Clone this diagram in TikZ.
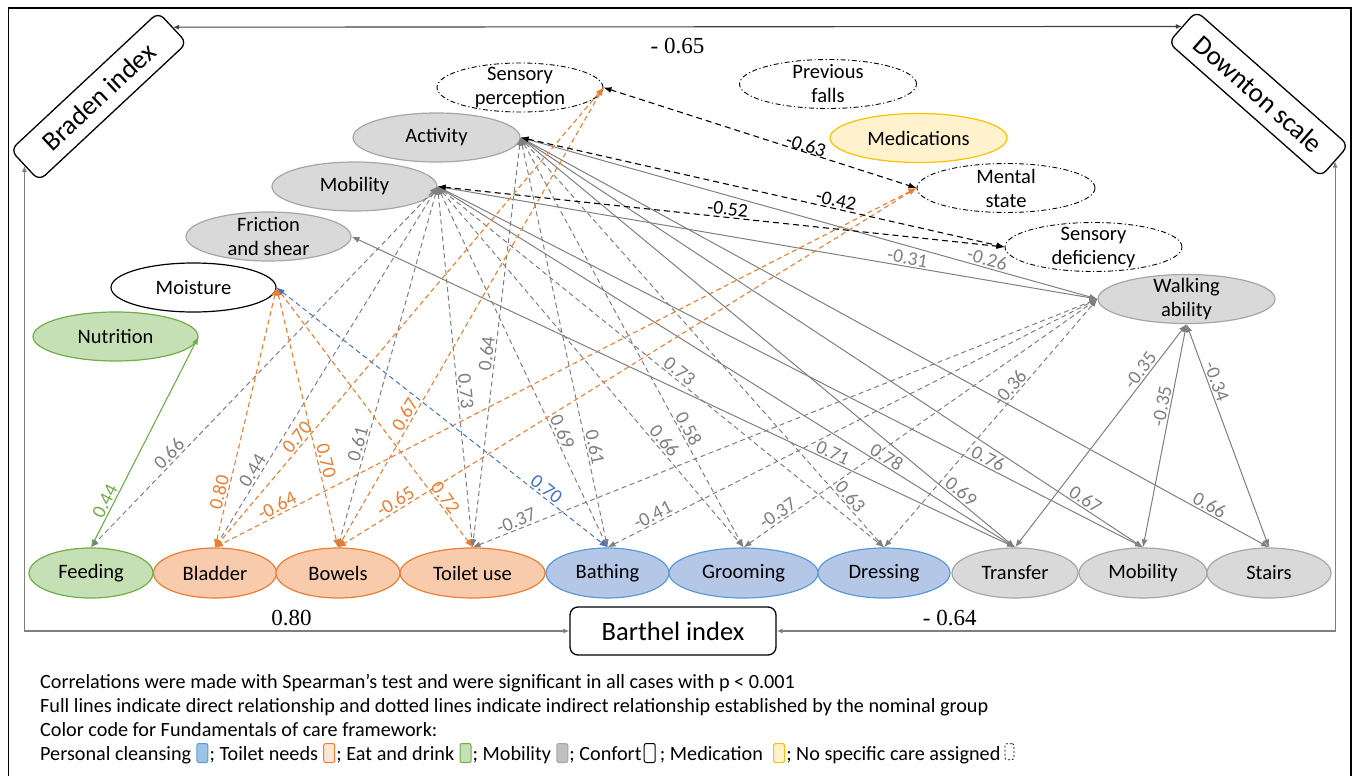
\documentclass[tikz,border=0pt]{standalone}
\usepackage{fontspec}
\setmainfont{Carlito}
\newfontfamily\timesf{Liberation Serif}
\usetikzlibrary{shapes.geometric,arrows.meta,calc}
\definecolor{gfill}{HTML}{D9D9D9}
\definecolor{gline}{HTML}{A6A6A6}
\definecolor{grn}{HTML}{70AD47}
\definecolor{grnf}{HTML}{C5E0B4}
\definecolor{org}{HTML}{ED7D31}
\definecolor{orgf}{HTML}{F8CBAD}
\definecolor{orgl}{HTML}{FBE5D6}
\definecolor{blu}{HTML}{5B9BD5}
\definecolor{bluf}{HTML}{B4C7E7}
\definecolor{blul}{HTML}{9DC3E6}
\definecolor{ylw}{HTML}{FFC000}
\definecolor{ylwf}{HTML}{FFF2CC}
\definecolor{cg}{HTML}{7F7F7F}
\definecolor{cblue}{HTML}{4472C4}
\definecolor{gmid}{HTML}{BFBFBF}
\begin{document}
\begin{tikzpicture}[x=1pt,y=-1pt,
  font=\fontsize{20.5}{24}\selectfont,
  ell/.style={ellipse, minimum width=#1, minimum height=49pt, inner sep=0pt, line width=1.2pt, align=center},
  gnode/.style={ell=#1, fill=gfill, draw=gline},
  gnnode/.style={ell=#1, fill=grnf, draw=grn},
  onode/.style={ell=#1, fill=orgf, draw=org},
  bnode/.style={ell=#1, fill=bluf, draw=blu},
  ynode/.style={ell=#1, fill=ylwf, draw=ylw},
  wnode/.style={ell=#1, fill=white, draw=black},
  ddnode/.style={ell=#1, draw=black, line width=0.9pt, dash pattern=on 5pt off 2.5pt on 1.2pt off 2.5pt},
  bnd/.style={minimum height=50pt},
  tips/.style={{Latex[length=8pt,width=6pt]}-{Latex[length=8pt,width=6pt]}},
  gdash/.style={tips, draw=cg, line width=1pt, dash pattern=on 5pt off 3.5pt},
  gsol/.style={tips, draw=cg, line width=1pt},
  odash/.style={tips, draw=org, line width=1.1pt, dash pattern=on 5pt off 3.5pt},
  bdash/.style={tips, draw=cblue, line width=1pt, dash pattern=on 5pt off 3.5pt},
  kdash/.style={tips, draw=black, line width=1.1pt, dash pattern=on 6pt off 4pt},
  grsol/.style={tips, draw=grn, line width=1.1pt},
  lbl/.style={sloped, above, inner sep=1.5pt, text=cg, font=\fontsize{19.5}{19.5}\selectfont},
  frm/.style={{Latex[length=6pt,width=5pt]}-{Latex[length=6pt,width=5pt]}, draw=cg, line width=1.1pt},
  tlab/.style={font=\timesf\fontsize{23}{23}\selectfont},
  scalebox/.style={draw, rounded corners=8pt, minimum width=#1, minimum height=42pt, line width=1.3pt, font=\fontsize{27}{27}\selectfont},
  leg/.style={anchor=base west, inner sep=0pt, font=\fontsize{20.2}{22}\selectfont},
  legbox/.style={rounded corners=2pt, minimum width=11pt, minimum height=19pt, inner sep=0pt, anchor=south west, line width=1pt}
]
\useasboundingbox (0,0) rectangle (1354,776);
\draw[line width=1.6pt] (8.5,8) rectangle (1351,790);

% scale boxes
\node[scalebox=202pt, rotate=43] (braden) at (98.75,96.5) {Braden index};
\node[scalebox=203pt, rotate=-41.4] (downton) at (1258.5,94) {Downton scale};
\node[draw, rounded corners=8pt, minimum width=206pt, minimum height=48pt, line width=1.3pt, font=\fontsize{26.5}{26.5}\selectfont] (barthel) at (673,631) {Barthel index};

% Braden items
\node[ddnode=166pt, label={[align=center]center:Sensory\\perception}] (sp) at (520,87.5) {};
\node[gnode=167pt] (act) at (436.5,137.5) {Activity};
\node[gnode=165pt] (mobB) at (354.5,186.5) {Mobility};
\node[gnode=165pt, label={[align=center]center:Friction\\and shear}] (fric) at (268.5,236.5) {};
\node[wnode=165pt] (moist) at (193.5,287.5) {Moisture};
\node[gnnode=165pt] (nutr) at (115.5,336.5) {Nutrition};

% Downton items
\node[ddnode=177pt, label={[align=center]center:Previous\\falls}] (pf) at (828,84) {};
\node[ynode=177pt] (med) at (918.5,138) {Medications};
\node[ddnode=178pt, label={[align=center]center:Mental\\state}] (ms) at (1006,188) {};
\node[ddnode=177pt, label={[align=center]center:Sensory\\deficiency}] (sd) at (1093.5,247) {};
\node[gnode=177pt, label={[align=center]center:Walking\\ability}] (wa) at (1186.5,299) {};

% Barthel items
\node[gnnode=124pt, bnd] (feed) at (91,573) {Feeding};
\node[onode=123pt, bnd] (blad) at (215,573) {Bladder};
\node[onode=124pt, bnd] (bowe) at (338,573) {Bowels};
\node[onode=145pt, bnd] (toil) at (472.5,573) {Toilet use};
\node[bnode=123pt, bnd] (bath) at (607.5,573) {Bathing};
\node[bnode=149pt, bnd] (groo) at (743.5,573) {Grooming};
\node[bnode=132pt, bnd] (dres) at (884,573) {Dressing};
\node[gnode=126pt, bnd] (tran) at (1015,573) {Transfer};
\node[gnode=128pt, bnd] (mobl) at (1143,573) {Mobility};
\node[gnode=124pt, bnd] (stai) at (1269,573) {Stairs};

% frame connectors
\draw[frm, draw=black!75] (braden.east) -- node[tlab, pos=0.5, below=8pt]{- 0.65} (downton.west);
\draw[frm] (braden.west) |- node[tlab, pos=0.745, above=1pt]{0.80} (barthel.west);
\draw[frm] (downton.east) |- node[tlab, pos=0.845, above=1pt]{- 0.64} (barthel.east);

% green
\draw[grsol] (nutr.east) -- node[lbl, text=grn, pos=0.8]{0.44} (feed.north);

% gray dashed from Mobility (Braden)
\draw[gdash] (mobB.east) -- node[lbl,pos=0.757]{0.66} (feed.north);
\draw[gdash] (mobB.east) -- node[lbl,pos=0.80]{0.44} (blad.north);
\draw[gdash] (mobB.east) -- node[lbl,pos=0.72]{0.61} (bowe.north);
\draw[gdash] (mobB.east) -- node[lbl,pos=0.57]{0.73} (toil.north);
\draw[gdash] (mobB.east) -- node[lbl,pos=0.69]{0.69} (bath.north);
\draw[gdash] (mobB.east) -- node[lbl,pos=0.72]{0.66} (groo.north);
\draw[gdash] (mobB.east) -- node[lbl,pos=0.53]{0.73} (dres.north);
% gray dashed from Activity
\draw[gdash] (act.east) -- node[lbl,pos=0.53]{0.64} (toil.north);
\draw[gdash] (act.east) -- node[lbl,pos=0.76]{0.61} (bath.north);
\draw[gdash] (act.east) -- node[lbl,pos=0.72]{0.58} (groo.north);
\draw[gdash] (act.east) -- node[lbl,pos=0.89]{0.63} (dres.north);
% gray solid
\draw[gsol] (fric.east) -- node[lbl,pos=0.72]{0.71} (tran.north);
\draw[gsol] (mobB.east) -- node[lbl,pos=0.77]{0.78} (tran.north);
\draw[gsol] (act.east) -- node[lbl,pos=0.88]{0.69} (tran.north);
\draw[gsol] (mobB.east) -- node[lbl,pos=0.775]{0.76} (mobl.north);
\draw[gsol] (act.east) -- node[lbl,pos=0.9]{0.67} (mobl.north);
\draw[gsol] (act.east) -- node[lbl,pos=0.915]{0.66} (stai.north);
\draw[gsol] (mobB.east) -- node[lbl,pos=0.71]{-0.31} (wa.west);
\draw[gsol] (act.east) -- node[lbl,pos=0.805]{-0.26} (wa.west);
\draw[gsol] (wa.south) -- node[lbl,pos=0.23]{-0.35} (tran.north);
\draw[gsol] (wa.south) -- node[lbl,pos=0.375]{-0.35} (mobl.north);
\draw[gsol] (wa.south) -- node[lbl,pos=0.27]{-0.34} (stai.north);
% gray dashed to Walking ability
\draw[gdash] (toil.north) -- node[lbl,pos=0.075]{-0.37} (wa.west);
\draw[gdash] (bath.north) -- node[lbl,pos=0.10]{-0.41} (wa.west);
\draw[gdash] (groo.north) -- node[lbl,pos=0.11]{-0.37} (wa.west);
\draw[gdash] (dres.north) -- node[lbl,pos=0.62]{-0.36} (wa.west);
% orange
\draw[odash] (moist.east) -- node[lbl,text=org,pos=0.796]{0.80} (blad.north);
\draw[odash] (moist.east) -- node[lbl,text=org,pos=0.673]{0.70} (bowe.north);
\draw[odash] (moist.east) -- node[lbl,text=org,pos=0.827]{0.72} (toil.north);
\draw[odash] (sp.east) -- node[lbl,text=org,pos=0.772]{0.70} (blad.north);
\draw[odash] (sp.east) -- node[lbl,text=org,pos=0.72]{0.67} (bowe.north);
\draw[odash] (ms.west) -- node[lbl,text=org,pos=0.906]{-0.64} (blad.north);
\draw[odash] (ms.west) -- node[lbl,text=org,pos=0.893]{-0.65} (bowe.north);
% blue
\draw[bdash] (moist.east) -- node[lbl,text=cblue,pos=0.8]{0.70} (bath.north);
% black dashed
\draw[kdash] (sp.east) -- node[lbl,text=black,pos=0.64,above=-2pt]{-0.63} (ms.west);
\draw[kdash] (act.east) -- node[lbl,text=black,pos=0.648]{-0.42} (sd.west);
\draw[kdash] (mobB.east) -- node[lbl,text=black,pos=0.51]{-0.52} (sd.west);

% legend
\node[leg] (l1) at (40,688) {Correlations were made with Spearman’s test and were significant in all cases with p < 0.001};
\node[leg] (l2) at (40,712) {Full lines indicate direct relationship and dotted lines indicate indirect relationship established by the nominal group};
\node[leg] (l3) at (40,736) {Color code for Fundamentals of care framework:};
\node[leg] (c1) at (40,760) {Personal cleansing};
\node[legbox, fill=blul, draw=blu] (s1) at ($(c1.base east)+(5,3)$) {};
\node[leg] (c2) at ($(s1.south east)+(1,-3)$) {; Toilet needs};
\node[legbox, fill=orgl, draw=org] (s2) at ($(c2.base east)+(5,3)$) {};
\node[leg] (c3) at ($(s2.south east)+(1,-3)$) {; Eat and drink};
\node[legbox, fill=grnf, draw=grn] (s3) at ($(c3.base east)+(5,3)$) {};
\node[leg] (c4) at ($(s3.south east)+(1,-3)$) {; Mobility};
\node[legbox, fill=gmid, draw=gline] (s4) at ($(c4.base east)+(5,3)$) {};
\node[leg] (c5) at ($(s4.south east)+(1,-3)$) {; Confort};
\node[legbox, fill=white, draw=black] (s5) at ($(c5.base east)+(2,3)$) {};
\node[leg] (c6) at ($(s5.south east)+(4,-3)$) {; Medication};
\node[legbox, fill=ylwf, draw=ylw] (s6) at ($(c6.base east)+(10,3)$) {};
\node[leg] (c7) at ($(s6.south east)+(1,-3)$) {; No specific care assigned};
\node[legbox, draw=black, line width=0.7pt, dash pattern=on 2pt off 2pt, minimum width=9pt, minimum height=16pt] (s7) at ($(c7.base east)+(4,0)$) {};
\end{tikzpicture}
\end{document}
